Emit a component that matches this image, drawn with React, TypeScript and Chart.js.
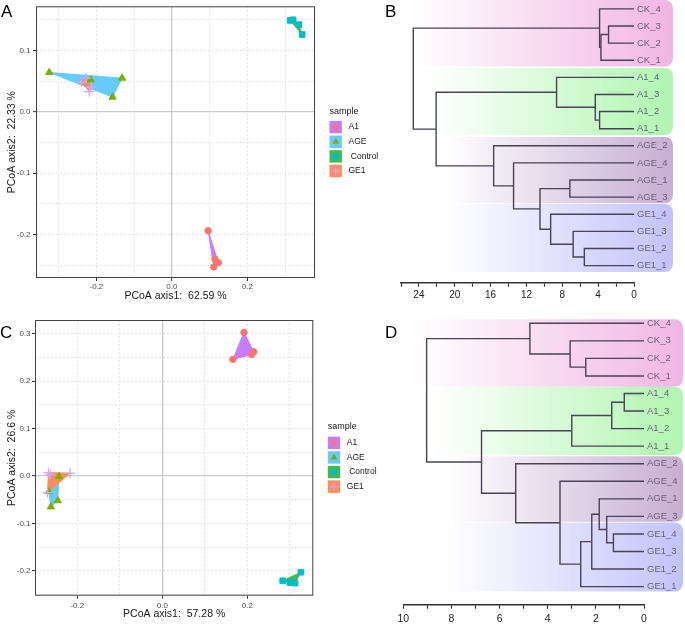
import React, { useEffect, useRef } from 'react';
import { Chart, registerables } from 'chart.js';

Chart.register(...registerables);

const FONT = "'Liberation Sans', Arial, Helvetica, sans-serif";

// ---------------- data ----------------
const sampleGroups = ['A1', 'AGE', 'Control', 'GE1'];

// Panel A – PCoA (x = axis1, y = axis2)
const pcoaA_A1 = [[0.096, -0.194], [0.114, -0.240], [0.123, -0.246], [0.111, -0.253]];
const pcoaA_AGE = [[-0.325, 0.064], [-0.215, 0.052], [-0.132, 0.055], [-0.157, 0.024]];
const pcoaA_Control = [[0.313, 0.149], [0.321, 0.150], [0.336, 0.142], [0.345, 0.126]];
const pcoaA_GE1 = [[-0.240, 0.048], [-0.228, 0.055], [-0.214, 0.040], [-0.219, 0.033]];
const pcoaA_titles = ['PCoA axis1:  62.59 %', 'PCoA axis2:  22.33 %'];
const pcoaA_xTicks = [-0.3, -0.2, -0.1, 0, 0.1, 0.2, 0.3];
const pcoaA_xLabels = ['', '-0.2', '', '0.0', '', '0.2', ''];
const pcoaA_yTicks = [0.15, 0.1, 0.05, 0, -0.05, -0.1, -0.15, -0.2, -0.25];
const pcoaA_yLabels = ['', '0.1', '', '0.0', '', '-0.1', '', '-0.2', ''];

// Panel C – PCoA
const pcoaC_A1 = [[0.192, 0.303], [0.166, 0.246], [0.210, 0.256], [0.215, 0.262]];
const pcoaC_AGE = [[-0.267, -0.033], [-0.243, -0.001], [-0.246, -0.052], [-0.262, -0.065]];
const pcoaC_Control = [[0.283, -0.221], [0.300, -0.225], [0.312, -0.226], [0.326, -0.203]];
const pcoaC_GE1 = [[-0.268, 0.007], [-0.217, 0.006], [-0.270, -0.035], [-0.264, 0.003]];
const pcoaC_titles = ['PCoA axis1:  57.28 %', 'PCoA axis2:  26.6 %'];
const pcoaC_xTicks = [-0.2, -0.1, 0, 0.1, 0.2, 0.3];
const pcoaC_xLabels = ['-0.2', '', '0.0', '', '0.2', ''];
const pcoaC_yTicks = [0.3, 0.25, 0.2, 0.15, 0.1, 0.05, 0, -0.05, -0.1, -0.15, -0.2, -0.25];
const pcoaC_yLabels = ['0.3', '', '0.2', '', '0.1', '', '0.0', '', '-0.1', '', '-0.2', ''];

// Panel B – dendrogram (leaf order top to bottom, merges [childA, childB, height]; '#n' = n-th merge)
const dendroB_leaves = ['CK_4', 'CK_3', 'CK_2', 'CK_1', 'A1_4', 'A1_3', 'A1_2', 'A1_1', 'AGE_2', 'AGE_4', 'AGE_1', 'AGE_3', 'GE1_4', 'GE1_3', 'GE1_2', 'GE1_1'];
const dendroB_merges: [string, string, number][] = [
  ['CK_3', 'CK_2', 2.84],
  ['#0', 'CK_1', 3.69],
  ['CK_4', '#1', 3.84],
  ['A1_2', 'A1_1', 3.84],
  ['A1_3', '#3', 4.32],
  ['A1_4', '#4', 8.64],
  ['GE1_2', 'GE1_1', 5.54],
  ['GE1_3', '#6', 6.79],
  ['GE1_4', '#7', 9.3],
  ['AGE_1', 'AGE_3', 7.16],
  ['#9', '#8', 10.49],
  ['AGE_4', '#10', 13.44],
  ['AGE_2', '#11', 15.66],
  ['#5', '#12', 22.08],
  ['#2', '#13', 24.63],
];
const dendroB_xTicks = [0, 2, 4, 6, 8, 10, 12, 14, 16, 18, 20, 22, 24, 26];
const dendroB_xLabels = ['0', '', '4', '', '8', '', '12', '', '16', '', '20', '', '24', ''];

// Panel D – dendrogram
const dendroD_leaves = ['CK_4', 'CK_3', 'CK_2', 'CK_1', 'A1_4', 'A1_3', 'A1_2', 'A1_1', 'AGE_2', 'AGE_4', 'AGE_1', 'AGE_3', 'GE1_4', 'GE1_3', 'GE1_2', 'GE1_1'];
const dendroD_merges: [string, string, number][] = [
  ['CK_2', 'CK_1', 2.42],
  ['CK_3', '#0', 3.07],
  ['CK_4', '#1', 4.74],
  ['A1_4', 'A1_3', 0.82],
  ['#3', 'A1_2', 1.34],
  ['#4', 'A1_1', 3.0],
  ['GE1_4', 'GE1_3', 1.27],
  ['AGE_3', '#6', 1.55],
  ['AGE_1', '#7', 1.86],
  ['#8', 'GE1_2', 2.17],
  ['#9', 'GE1_1', 2.63],
  ['AGE_4', '#10', 3.49],
  ['AGE_2', '#11', 5.33],
  ['#5', '#12', 6.75],
  ['#2', '#13', 9.03],
];
const dendroD_xTicks = [0, 1, 2, 3, 4, 5, 6, 7, 8, 9, 10];
const dendroD_xLabels = ['0', '', '2', '', '4', '', '6', '', '8', '', '10'];

// ---------------- styles ----------------
const pointColors = ['#F8766D', '#7CAE00', '#00BFC4', '#D8A4FF'];
const pointStyles = ['circle', 'triangle', 'rect', 'cross'];
const pointRadii = [3.2, 4.2, 4, 5];
const hullColors = ['#C77CFF', '#66CCFF', '#45B854', '#FF8C5A'];

const bandColors = [[241, 182, 228], [176, 246, 176], [199, 174, 211], [194, 194, 250]];
const bandInsets = [12, 30, 45, 45];
const bandsB = [[-0.53, 3.37], [3.45, 7.37], [7.49, 11.35], [11.4, 15.38]];
const bandsD = [[-0.23, 3.61], [3.63, 7.5], [7.57, 11.3], [11.35, 15.28]];
const treeColor = '#4a4256';
const leafColor = '#6b5f7d';

// ---------------- helpers ----------------
function convexHull(pts: number[][]) {
  const p = pts.slice().sort((a, b) => (a[0] - b[0]) || (a[1] - b[1]));
  const cross = (o: number[], a: number[], b: number[]) => (a[0] - o[0]) * (b[1] - o[1]) - (a[1] - o[1]) * (b[0] - o[0]);
  const lower: number[][] = [];
  for (const q of p) { while (lower.length >= 2 && cross(lower[lower.length - 2], lower[lower.length - 1], q) <= 0) lower.pop(); lower.push(q); }
  const upper: number[][] = [];
  for (let i = p.length - 1; i >= 0; i--) { const q = p[i]; while (upper.length >= 2 && cross(upper[upper.length - 2], upper[upper.length - 1], q) <= 0) upper.pop(); upper.push(q); }
  upper.pop(); lower.pop();
  const h = lower.concat(upper);
  return h.concat([h[0]]);
}

function buildTree(leaves: string[], merges: [string, string, number][]) {
  const pos: Record<string, { y: number; h: number }> = {};
  leaves.forEach((l, i) => { pos[l] = { y: i, h: 0 }; });
  const segs: { x: number; y: number }[][] = [];
  merges.forEach(([a, b, h], i) => {
    const A = pos[a], B = pos[b];
    segs.push([{ x: A.h, y: A.y }, { x: h, y: A.y }, { x: h, y: B.y }, { x: B.h, y: B.y }]);
    pos['#' + i] = { y: (A.y + B.y) / 2, h };
  });
  return segs;
}

function drawMarker(ctx: CanvasRenderingContext2D, style: string, x: number, y: number, color: string) {
  ctx.save();
  ctx.fillStyle = color; ctx.strokeStyle = color; ctx.lineWidth = 1.2;
  ctx.beginPath();
  if (style === 'circle') { ctx.arc(x, y, 3, 0, Math.PI * 2); ctx.fill(); }
  else if (style === 'triangle') { const r = 4; ctx.moveTo(x, y - r); ctx.lineTo(x + r * 0.866, y + r * 0.5); ctx.lineTo(x - r * 0.866, y + r * 0.5); ctx.closePath(); ctx.fill(); }
  else if (style === 'rect') { ctx.fillRect(x - 3, y - 3, 6, 6); }
  else { ctx.moveTo(x - 4.5, y); ctx.lineTo(x + 4.5, y); ctx.moveTo(x, y - 4.5); ctx.lineTo(x, y + 4.5); ctx.stroke(); }
  ctx.restore();
}

const letterPlugin = (letter: string, x: number, y: number) => ({
  id: 'panelLetter',
  afterDraw(chart: any) {
    const ctx = chart.ctx;
    ctx.save();
    ctx.fillStyle = '#000'; ctx.font = `17px ${FONT}`; ctx.textAlign = 'left'; ctx.textBaseline = 'alphabetic';
    ctx.fillText(letter, x, y);
    ctx.restore();
  },
});

const framePlugin = {
  id: 'frame',
  afterDatasetsDraw(chart: any) {
    const { ctx, chartArea: a } = chart;
    ctx.save();
    ctx.strokeStyle = '#444'; ctx.lineWidth = 1;
    ctx.strokeRect(a.left + 0.5, a.top + 0.5, a.right - a.left - 1, a.bottom - a.top - 1);
    ctx.restore();
  },
};

const legendPlugin = {
  id: 'sampleLegend',
  afterDraw(chart: any) {
    const { ctx, chartArea: a } = chart;
    const mid = (a.top + a.bottom) / 2;
    const x0 = a.right + 14.5;
    ctx.save();
    ctx.textAlign = 'left'; ctx.textBaseline = 'middle';
    ctx.fillStyle = '#1a1a1a'; ctx.font = `9px ${FONT}`;
    ctx.fillText('sample', x0, mid - 31);
    sampleGroups.forEach((g, i) => {
      const cy = mid - 15 + i * 14.6;
      ctx.fillStyle = hullColors[i];
      ctx.fillRect(x0, cy - 6.2, 12.4, 12.4);
      drawMarker(ctx, pointStyles[i], x0 + 6.2, cy, pointColors[i]);
      ctx.fillStyle = '#1a1a1a'; ctx.font = `8.5px ${FONT}`;
      ctx.fillText(g === 'Control' ? ' ' + g : g, x0 + 19, cy);
    });
    ctx.restore();
  },
};

const bandPlugin = (bands: number[][], rightGap: number) => ({
  id: 'bands',
  beforeDraw(chart: any) {
    const { ctx, chartArea: a, scales } = chart;
    const y = scales.y;
    bands.forEach((b, i) => {
      const top = y.getPixelForValue(b[0]);
      const bottom = y.getPixelForValue(b[1]);
      const left = a.left + bandInsets[i];
      const right = chart.width - rightGap;
      const [r, g, bl] = bandColors[i];
      const grad = ctx.createLinearGradient(left, 0, right, 0);
      grad.addColorStop(0, `rgba(${r},${g},${bl},0)`);
      grad.addColorStop(0.35, `rgba(${r},${g},${bl},0.35)`);
      grad.addColorStop(1, `rgba(${r},${g},${bl},1)`);
      const rad = 9;
      ctx.save();
      ctx.fillStyle = grad;
      ctx.beginPath();
      ctx.moveTo(left, top);
      ctx.lineTo(right - rad, top);
      ctx.quadraticCurveTo(right, top, right, top + rad);
      ctx.lineTo(right, bottom - rad);
      ctx.quadraticCurveTo(right, bottom, right - rad, bottom);
      ctx.lineTo(left, bottom);
      ctx.closePath();
      ctx.fill();
      ctx.restore();
    });
  },
});

const zeroPad = (s: any) => { s.paddingLeft = 0; s.paddingRight = 0; s.paddingTop = 0; s.paddingBottom = 0; };
const isZero = (c: any) => c && c.tick && Math.abs(c.tick.value) < 1e-9;

function scatterConfig(o: any) {
  const groups = [o.A1, o.AGE, o.Control, o.GE1];
  const datasets: any[] = [];
  groups.forEach((pts: number[][], i: number) => {
    datasets.push({
      type: 'line',
      label: sampleGroups[i] + ' hull',
      data: convexHull(pts).map(([x, y]) => ({ x, y })),
      showLine: true,
      fill: 'shape',
      backgroundColor: hullColors[i],
      borderColor: hullColors[i],
      borderWidth: 1,
      pointRadius: 0,
      tension: 0,
      order: 13 - i,
    });
  });
  groups.forEach((pts: number[][], i: number) => {
    datasets.push({
      type: 'scatter',
      label: sampleGroups[i],
      data: pts.map(([x, y]) => ({ x, y })),
      pointStyle: pointStyles[i],
      pointRadius: pointRadii[i],
      backgroundColor: pointColors[i],
      borderColor: pointColors[i],
      borderWidth: i === 3 ? 1.3 : 1,
      order: 3 - i,
    });
  });
  const gridColor = (c: any) => (isZero(c) ? '#c9c9c9' : '#d9d9d9');
  const gridWidth = (c: any) => (isZero(c) ? 1.3 : 0.7);
  const dash = (c: any) => (isZero(c) ? [] : [2, 2]);
  return {
    type: 'scatter',
    data: { datasets },
    options: {
      responsive: false,
      animation: false,
      events: [],
      layout: { padding: o.padding },
      plugins: { legend: { display: false }, tooltip: { enabled: false } },
      scales: {
        x: {
          type: 'linear', min: o.xMin, max: o.xMax,
          afterBuildTicks: (s: any) => { s.ticks = o.xTicks.map((v: number) => ({ value: v })); },
          afterFit: (s: any) => { s.height = o.xHeight; zeroPad(s); },
          ticks: { autoSkip: false, maxRotation: 0, padding: o.xTickPad, color: '#4d4d4d', font: { family: FONT, size: 8 }, callback: (_v: any, i: number) => o.xLabels[i] },
          grid: { color: gridColor, lineWidth: gridWidth, tickLength: 3, tickWidth: 1, tickColor: (c: any) => (o.xLabels[c.index] ? '#333' : 'rgba(0,0,0,0)') },
          border: { display: false, dash },
          title: { display: true, text: o.titles[0], color: '#1a1a1a', font: { family: FONT, size: 10.5 }, padding: { top: 0, bottom: o.xTitlePad } },
        },
        y: {
          type: 'linear', min: o.yMin, max: o.yMax,
          afterBuildTicks: (s: any) => { s.ticks = o.yTicks.map((v: number) => ({ value: v })); },
          afterFit: (s: any) => { s.width = o.yWidth; zeroPad(s); },
          ticks: { autoSkip: false, padding: o.yTickPad, color: '#4d4d4d', font: { family: FONT, size: 8 }, callback: (_v: any, i: number) => o.yLabels[i] },
          grid: { color: gridColor, lineWidth: gridWidth, tickLength: 3, tickWidth: 1, tickColor: (c: any) => (o.yLabels[c.index] ? '#333' : 'rgba(0,0,0,0)') },
          border: { display: false, dash },
          title: { display: true, text: o.titles[1], color: '#1a1a1a', font: { family: FONT, size: 10.5 }, padding: { top: 5.4, bottom: 0 } },
        },
      },
    },
    plugins: [framePlugin, legendPlugin, letterPlugin(o.letter, o.letterX, o.letterY)],
  };
}

function dendroConfig(o: any) {
  const segs = buildTree(o.leaves, o.merges);
  const datasets = segs.map((s) => ({
    type: 'line',
    data: s,
    borderColor: treeColor,
    borderWidth: 1.4,
    pointRadius: 0,
    fill: false,
    tension: 0,
  }));
  return {
    type: 'scatter',
    data: { datasets },
    options: {
      responsive: false,
      animation: false,
      events: [],
      layout: { padding: o.padding },
      plugins: { legend: { display: false }, tooltip: { enabled: false } },
      scales: {
        x: {
          type: 'linear', reverse: true, min: 0, max: o.xMax, position: 'bottom',
          afterBuildTicks: (s: any) => { s.ticks = o.xTicks.map((v: number) => ({ value: v })); },
          afterFit: (s: any) => { s.height = o.xHeight; zeroPad(s); },
          ticks: { autoSkip: false, maxRotation: 0, padding: o.xTickPad, color: '#222', font: { family: FONT, size: o.xFont }, callback: (_v: any, i: number) => o.xLabels[i] },
          grid: { drawOnChartArea: false, drawTicks: true, tickLength: 4, tickWidth: 1.2, tickColor: '#333' },
          border: { display: true, color: '#333', width: 1.5 },
        },
        y: {
          type: 'linear', reverse: true, min: o.yMin, max: o.yMax, position: 'right',
          afterBuildTicks: (s: any) => { s.ticks = o.leaves.map((_l: string, i: number) => ({ value: i })); },
          afterFit: (s: any) => { s.width = o.yWidth; zeroPad(s); },
          ticks: { autoSkip: false, padding: 3, color: leafColor, font: { family: FONT, size: 9.5 }, callback: (_v: any, i: number) => o.leaves[i] },
          grid: { display: false, drawTicks: false },
          border: { display: false },
        },
      },
    },
    plugins: [bandPlugin(o.bands, o.rightGap), letterPlugin(o.letter, o.letterX, o.letterY)],
  };
}

function ChartBox({ make, left, top, width, height }: any) {
  const ref = useRef<HTMLCanvasElement>(null);
  useEffect(() => {
    const chart = new Chart(ref.current as HTMLCanvasElement, make() as any);
    return () => chart.destroy();
  }, []);
  return (
    <div style={{ position: 'absolute', left, top, width, height }}>
      <canvas ref={ref} width={width} height={height} style={{ width, height, display: 'block' }} />
    </div>
  );
}

export default function App() {
  const makeA = () => scatterConfig({
    A1: pcoaA_A1, AGE: pcoaA_AGE, Control: pcoaA_Control, GE1: pcoaA_GE1, titles: pcoaA_titles,
    xTicks: pcoaA_xTicks, xLabels: pcoaA_xLabels, yTicks: pcoaA_yTicks, yLabels: pcoaA_yLabels,
    xMin: -0.36, xMax: 0.379, yMin: -0.271, yMax: 0.172,
    padding: { left: 0, right: 70, top: 2, bottom: 0 }, xHeight: 27, yWidth: 36,
    xTickPad: 0.5, yTickPad: 2.5, xTitlePad: 2.4,
    letter: 'A', letterX: 1, letterY: 17.3,
  });
  const makeC = () => scatterConfig({
    A1: pcoaC_A1, AGE: pcoaC_AGE, Control: pcoaC_Control, GE1: pcoaC_GE1, titles: pcoaC_titles,
    xTicks: pcoaC_xTicks, xLabels: pcoaC_xLabels, yTicks: pcoaC_yTicks, yLabels: pcoaC_yLabels,
    xMin: -0.2995, xMax: 0.355, yMin: -0.2525, yMax: 0.329,
    padding: { left: 0, right: 71.7, top: 10, bottom: 0 }, xHeight: 28.3, yWidth: 35,
    xTickPad: 2.2, yTickPad: 1.5, xTitlePad: 3.4,
    letter: 'C', letterX: 0, letterY: 28.3,
  });
  const makeB = () => dendroConfig({
    leaves: dendroB_leaves, merges: dendroB_merges, xTicks: dendroB_xTicks, xLabels: dendroB_xLabels,
    xMax: 26, yMin: -0.52, yMax: 16, padding: { left: 16, right: 0, top: 0, bottom: 0 },
    xHeight: 27.3, yWidth: 51, xTickPad: 2.3, xFont: 10, bands: bandsB, rightGap: 12,
    letter: 'B', letterX: 0, letterY: 16.7,
  });
  const makeD = () => dendroConfig({
    leaves: dendroD_leaves, merges: dendroD_merges, xTicks: dendroD_xTicks, xLabels: dendroD_xLabels,
    xMax: 10, yMin: -0.5, yMax: 16.03, padding: { left: 18.3, right: 0, top: 4.5, bottom: 0 },
    xHeight: 19.3, yWidth: 41, xTickPad: 4, xFont: 10.5, bands: bandsD, rightGap: 2,
    letter: 'D', letterX: 0, letterY: 28.3,
  });
  return (
    <div style={{ position: 'absolute', left: 0, top: 0, width: 685, height: 624, background: '#fff', overflow: 'hidden' }}>
      <ChartBox make={makeA} left={0} top={0} width={385} height={305} />
      <ChartBox make={makeB} left={385} top={0} width={300} height={310} />
      <ChartBox make={makeC} left={0} top={310} width={385} height={314} />
      <ChartBox make={makeD} left={385} top={310} width={300} height={314} />
    </div>
  );
}
